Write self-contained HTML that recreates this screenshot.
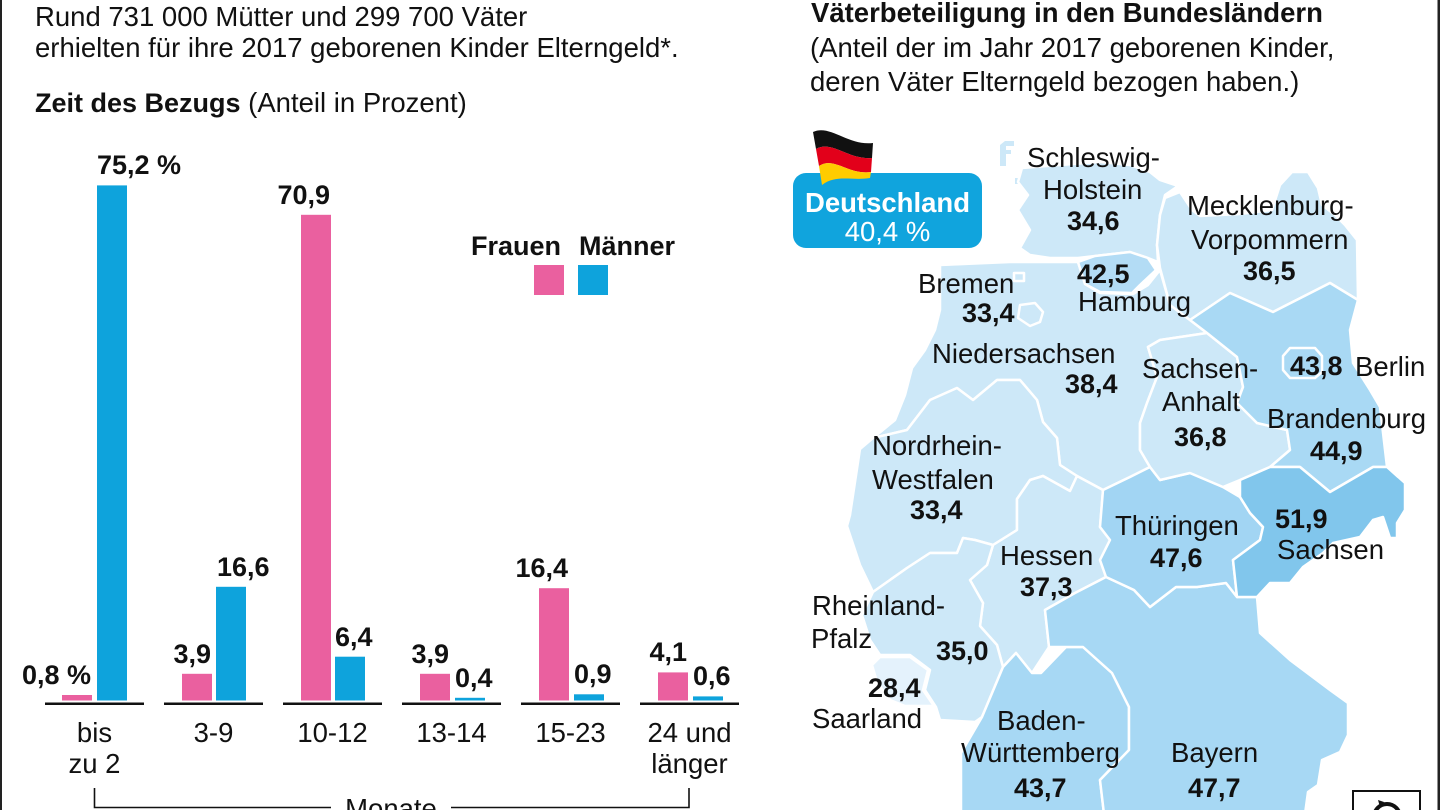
<!DOCTYPE html>
<html>
<head>
<meta charset="utf-8">
<style>
  html,body{margin:0;padding:0;background:#fff;}
  svg{display:block;}
  text{font-family:"Liberation Sans",Arial,sans-serif;fill:#111;}
  .r{font-size:27.5px;}
  .b{font-size:27px;font-weight:bold;}
  .w{fill:#fff;}
</style>
</head>
<body>
<svg width="1440" height="810" viewBox="0 0 1440 810" xmlns="http://www.w3.org/2000/svg">
  <rect x="0" y="0" width="1440" height="810" fill="#fff"/>
  <!-- frame -->
  <rect x="0" y="0" width="2" height="810" fill="#222"/>
  <rect x="1437.5" y="0" width="2.5" height="810" fill="#222"/>

  <!-- LEFT HEADER -->
  <text class="r" x="35" y="26">Rund 731 000 Mütter und 299 700 Väter</text>
  <text class="r" x="35" y="57">erhielten für ihre 2017 geborenen Kinder Elterngeld*.</text>
  <text class="r" x="35" y="112"><tspan font-weight="bold" font-size="27">Zeit des Bezugs</tspan> (Anteil in Prozent)</text>

  <!-- LEGEND -->
  <text class="b" x="471" y="255">Frauen</text>
  <text class="b" x="579" y="255">Männer</text>
  <rect x="534" y="265" width="30" height="30" fill="#ea609f"/>
  <rect x="578" y="265" width="30" height="30" fill="#0ea3dc"/>

  <!-- BARS -->
  <g fill="#ea609f">
    <rect x="62" y="695.0" width="30" height="5.5"/>
    <rect x="182" y="673.8" width="30" height="26.7"/>
    <rect x="301" y="214.8" width="30" height="485.7"/>
    <rect x="420" y="673.8" width="30" height="26.7"/>
    <rect x="539" y="588.2" width="30" height="112.3"/>
    <rect x="658" y="672.4" width="30" height="28.1"/>
  </g>
  <g fill="#0ea3dc">
    <rect x="97" y="185.4" width="30" height="515.1"/>
    <rect x="216" y="586.8" width="30" height="113.7"/>
    <rect x="335" y="656.7" width="30" height="43.8"/>
    <rect x="455" y="697.8" width="30" height="2.7"/>
    <rect x="574" y="694.3" width="30" height="6.2"/>
    <rect x="693" y="696.4" width="30" height="4.1"/>
  </g>
  <!-- bar labels -->
  <g class="b" text-anchor="end">
    <text class="b" x="91" y="684">0,8 %</text>
    <text class="b" x="211" y="663">3,9</text>
    <text class="b" x="330" y="204">70,9</text>
    <text class="b" x="449" y="663">3,9</text>
    <text class="b" x="568" y="577">16,4</text>
    <text class="b" x="687" y="661">4,1</text>
  </g>
  <text class="b" x="97" y="174">75,2 %</text>
  <text class="b" x="217" y="576">16,6</text>
  <text class="b" x="335" y="646">6,4</text>
  <text class="b" x="455" y="687">0,4</text>
  <text class="b" x="574" y="683">0,9</text>
  <text class="b" x="693" y="685">0,6</text>

  <!-- baselines -->
  <g fill="#111">
    <rect x="45" y="702.5" width="99" height="2.5"/>
    <rect x="164" y="702.5" width="99" height="2.5"/>
    <rect x="283" y="702.5" width="99" height="2.5"/>
    <rect x="402" y="702.5" width="99" height="2.5"/>
    <rect x="521" y="702.5" width="99" height="2.5"/>
    <rect x="640" y="702.5" width="99" height="2.5"/>
  </g>
  <!-- category labels -->
  <g text-anchor="middle">
    <text class="r" x="94.5" y="742">bis</text>
    <text class="r" x="94.5" y="773">zu 2</text>
    <text class="r" x="213.5" y="742">3-9</text>
    <text class="r" x="332.5" y="742">10-12</text>
    <text class="r" x="451.5" y="742">13-14</text>
    <text class="r" x="570.5" y="742">15-23</text>
    <text class="r" x="689.5" y="742">24 und</text>
    <text class="r" x="689.5" y="773">länger</text>
    <text class="r" x="391" y="818">Monate</text>
  </g>
  <path d="M94.5,788 V807.5 H331 M451,807.5 H689 V788" fill="none" stroke="#111" stroke-width="1.6"/>

  <!-- RIGHT HEADER -->
  <text class="r" x="811" y="22" font-weight="bold">Väterbeteiligung in den Bundesländern</text>
  <text class="r" x="810" y="57">(Anteil der im Jahr 2017 geborenen Kinder,</text>
  <text class="r" x="810" y="91">deren Väter Elterngeld bezogen haben.)</text>

  <!-- MAP -->
  <g stroke="#fff" stroke-width="2.5" stroke-linejoin="round">
    <!-- Sylt -->
    <polygon fill="#cde8f8" stroke="none" points="1000,145 1005,141 1014,141 1014,146 1006,146 1006,150 1011,150 1011,154 1006,154 1006,166 1000,166"/>
    <rect x="1015" y="178" width="6" height="6" fill="#cde8f8" stroke="none"/>
    <!-- Niedersachsen -->
    <polygon fill="#cde8f8" points="940,265 1010,262 1078,262 1085,284 1100,293 1133,294 1148,285 1160,270 1170,305 1190,320 1207,333 1160,340 1148,347 1157,377 1147,403 1140,423 1140,450 1150,467 1130,477 1103,490 1077,476 1060,465 1057,438 1043,422 1037,400 1020,380 997,380 973,400 957,388 930,400 907,430 873,438 895,420 905,395 912,368 925,350 935,330 940,310"/>
    <!-- Schleswig-Holstein -->
    <polygon fill="#cde8f8" points="1022,168 1060,165 1100,162 1130,165 1150,172 1160,180 1178,186 1165,195 1160,215 1157,245 1158,262 1148,258 1130,252 1095,256 1078,258 1050,258 1030,255 1020,248 1030,230 1018,210 1028,195 1018,182"/>
    <!-- Mecklenburg-Vorpommern -->
    <polygon fill="#cde8f8" points="1160,268 1157,245 1160,215 1165,198 1180,192 1192,210 1200,216 1240,214 1272,210 1280,185 1292,172 1308,172 1318,188 1322,205 1335,215 1345,225 1357,240 1358,300 1330,283 1273,312 1230,293 1190,320 1170,305"/>
    <!-- Hamburg -->
    <polygon fill="#b3dcf5" points="1078,262 1095,256 1130,252 1148,258 1156,270 1140,285 1132,293 1100,292 1085,284"/>
    <!-- Bremen -->
    <polygon fill="#cde8f8" points="1020,305 1035,303 1043,312 1040,322 1030,326 1018,318"/>
    <rect x="1014" y="273" width="10" height="8" fill="#cde8f8"/>
    <!-- NRW -->
    <polygon fill="#cde8f8" points="873,438 907,430 930,400 957,388 973,400 997,380 1020,380 1037,400 1043,422 1057,438 1060,465 1077,476 1070,491 1043,476 1030,480 1017,499 1017,530 993,545 975,540 963,538 957,553 930,553 907,568 873,592 860,565 847,526 850,515 860,449"/>
    <!-- Hessen -->
    <polygon fill="#cde8f8" points="1017,499 1030,480 1043,476 1070,491 1077,476 1103,490 1100,527 1110,540 1100,560 1106,577 1075,593 1045,610 1049,647 1032,673 1016,653 1003,667 997,645 980,626 983,603 970,580 987,565 993,545 1017,530"/>
    <!-- RLP -->
    <polygon fill="#cde8f8" points="873,592 907,568 930,553 957,553 963,538 975,540 993,545 987,565 970,580 983,603 980,626 997,645 1003,667 982,717 975,722 940,720 936,707 925,690 930,670 910,655 880,655 870,640 862,615"/>
    <!-- Saarland -->
    <polygon fill="#e4f2fc" points="880,657 910,657 928,670 923,690 934,706 905,706 890,700 877,682 872,665"/>
    <!-- BW -->
    <polygon fill="#a7d8f4" points="1003,667 1016,653 1032,673 1041,673 1066,647 1083,647 1112,673 1129,707 1129,750 1100,780 1104,814 961,814 961,753 982,717"/>
    <!-- Bayern -->
    <polygon fill="#a7d8f4" points="1045,610 1075,593 1106,577 1134,590 1150,607 1176,587 1197,587 1226,583 1237,597 1257,597 1260,633 1290,660 1330,690 1348,703 1348,735 1340,752 1322,760 1318,785 1308,792 1305,814 1104,814 1100,780 1129,750 1129,707 1112,673 1083,647 1066,647 1049,647"/>
    <!-- Thüringen -->
    <polygon fill="#a2d5f3" points="1103,490 1130,477 1150,467 1160,480 1190,473 1223,487 1240,497 1250,513 1263,527 1260,540 1233,560 1237,597 1226,583 1197,587 1176,587 1150,607 1134,590 1106,577 1100,560 1110,540 1100,527"/>
    <!-- Sachsen-Anhalt -->
    <polygon fill="#cde8f8" points="1148,347 1160,340 1207,333 1237,357 1243,387 1237,403 1257,423 1287,430 1290,450 1270,467 1240,480 1223,487 1190,473 1160,480 1150,467 1140,450 1140,423 1147,403 1157,377"/>
    <!-- Brandenburg -->
    <polygon fill="#a9d9f4" points="1190,320 1230,293 1273,312 1330,283 1358,300 1350,330 1353,363 1370,390 1380,407 1387,467 1373,467 1330,492 1300,467 1270,467 1290,450 1287,430 1257,423 1237,403 1243,387 1237,357 1207,333"/>
    <!-- Berlin -->
    <polygon fill="#a9d9f4" points="1290,348 1315,348 1322,356 1322,372 1315,378 1290,378 1283,370 1283,356"/>
    <!-- Sachsen -->
    <polygon fill="#81c6ec" points="1240,480 1270,467 1300,467 1330,492 1373,467 1387,467 1405,483 1405,510 1397,523 1397,538 1390,538 1383,517 1373,520 1360,537 1333,543 1323,553 1303,567 1290,583 1270,583 1257,597 1237,597 1233,560 1260,540 1263,527 1250,513 1240,497"/>
  </g>

  <!-- map labels -->
  <text class="r" x="1027" y="167">Schleswig-</text>
  <text class="r" x="1043" y="199">Holstein</text>
  <text class="b" x="1067" y="230">34,6</text>
  <text class="r" x="1187" y="215">Mecklenburg-</text>
  <text class="r" x="1191" y="249">Vorpommern</text>
  <text class="b" x="1243" y="280">36,5</text>
  <text class="r" x="918" y="293">Bremen</text>
  <text class="b" x="962" y="322">33,4</text>
  <text class="b" x="1077" y="283">42,5</text>
  <text class="r" x="1078" y="311">Hamburg</text>
  <text class="r" x="932" y="363">Niedersachsen</text>
  <text class="b" x="1065" y="393">38,4</text>
  <text class="r" x="1142" y="378">Sachsen-</text>
  <text class="r" x="1162" y="411">Anhalt</text>
  <text class="b" x="1174" y="446">36,8</text>
  <text class="b" x="1290" y="375">43,8</text>
  <text class="r" x="1355" y="376">Berlin</text>
  <text class="r" x="1267" y="428">Brandenburg</text>
  <text class="b" x="1310" y="460">44,9</text>
  <text class="r" x="872" y="455">Nordrhein-</text>
  <text class="r" x="872" y="489">Westfalen</text>
  <text class="b" x="910" y="519">33,4</text>
  <text class="r" x="1000" y="565">Hessen</text>
  <text class="b" x="1020" y="596">37,3</text>
  <text class="r" x="1115" y="535">Thüringen</text>
  <text class="b" x="1150" y="567">47,6</text>
  <text class="b" x="1275" y="528">51,9</text>
  <text class="r" x="1277" y="559">Sachsen</text>
  <text class="r" x="812" y="615">Rheinland-</text>
  <text class="r" x="811" y="648">Pfalz</text>
  <text class="b" x="936" y="660">35,0</text>
  <text class="b" x="868" y="697">28,4</text>
  <text class="r" x="812" y="728">Saarland</text>
  <text class="r" x="997" y="730">Baden-</text>
  <text class="r" x="961" y="762">Württemberg</text>
  <text class="b" x="1014" y="797">43,7</text>
  <text class="r" x="1171" y="762">Bayern</text>
  <text class="b" x="1188" y="797">47,7</text>

  <!-- Deutschland box -->
  <rect x="793" y="173" width="189" height="75" rx="13" ry="13" fill="#10a4dd"/>
  <text class="w" x="887.5" y="212" text-anchor="middle" font-size="27.5" font-weight="bold">Deutschland</text>
  <text class="w" x="887.5" y="241" text-anchor="middle" font-size="27.5">40,4 %</text>
  <!-- flag -->
  <path d="M813,132 C830,124 848,146 873,143 L872,158 C848,160 832,140 816,149 Z" fill="#111"/>
  <path d="M816,149 C832,140 848,160 872,158 L871,172 C848,175 834,156 819,166 Z" fill="#e2001a"/>
  <path d="M819,166 C834,156 848,175 871,172 L870,178 C852,181 836,174 822,185 Z" fill="#ffcc00"/>

  <!-- bottom-right icon -->
  <rect x="1353" y="791" width="67" height="30" fill="#fff" stroke="#111" stroke-width="2"/>
  <circle cx="1387" cy="817" r="13" fill="none" stroke="#111" stroke-width="4"/>
  <path d="M1378,800 L1384,802 L1380,807 Z" fill="#111"/>
</svg>
</body>
</html>
